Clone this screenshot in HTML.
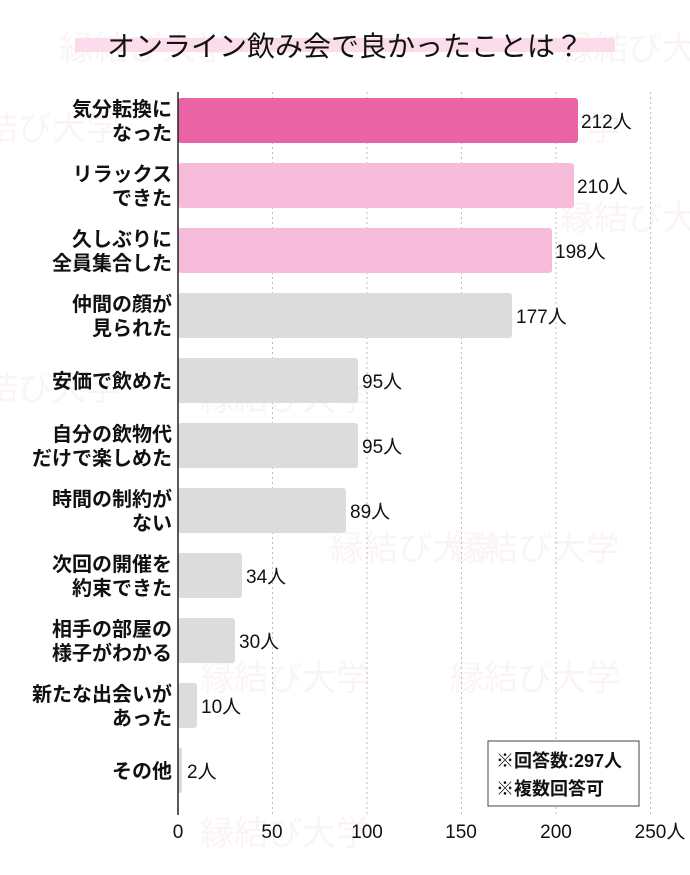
<!DOCTYPE html>
<html><head><meta charset="utf-8"><style>
body{margin:0;background:#fff;}
svg text{font-family:"Liberation Sans","Noto Sans CJK JP",sans-serif;}
</style></head><body>
<svg width="690" height="870" xmlns="http://www.w3.org/2000/svg">
<rect width="690" height="870" fill="#fff"/>
<g fill="#fbf4f4" font-size="34">
<text x="60" y="60">縁結び大学</text><text x="560" y="60">縁結び大学</text>
<text x="-50" y="140">縁結び大学</text><text x="200" y="140">縁結び大学</text><text x="450" y="140">縁結び大学</text>
<text x="560" y="230">縁結び大学</text>
<text x="-50" y="400">縁結び大学</text><text x="200" y="410">縁結び大学</text>
<text x="450" y="690">縁結び大学</text><text x="200" y="690">縁結び大学</text>
<text x="330" y="560">縁結び大学</text><text x="450" y="560">縁結び大学</text><text x="200" y="845">縁結び大学</text>
</g>
<rect x="75" y="38" width="540" height="14" fill="#fbdcea"/>
<text x="345" y="56" font-size="28" text-anchor="middle" fill="#111">オンライン飲み会で良かったことは？</text>
<g stroke="#bbb" stroke-dasharray="2,3" stroke-width="1">
<line x1="272.5" y1="92" x2="272.5" y2="815"/><line x1="367" y1="92" x2="367" y2="815"/>
<line x1="461.5" y1="92" x2="461.5" y2="815"/><line x1="556" y1="92" x2="556" y2="815"/>
<line x1="650.5" y1="92" x2="650.5" y2="815"/>
</g>
<g>
<rect x="178" y="98" width="400" height="45" rx="3" fill="#e963a5"/>
<rect x="178" y="163" width="396" height="45" rx="3" fill="#f6bcd9"/>
<rect x="178" y="228" width="374" height="45" rx="3" fill="#f6bcd9"/>
<rect x="178" y="293" width="334" height="45" rx="3" fill="#dcdcdc"/>
<rect x="178" y="358" width="180" height="45" rx="3" fill="#dcdcdc"/>
<rect x="178" y="423" width="180" height="45" rx="3" fill="#dcdcdc"/>
<rect x="178" y="488" width="168" height="45" rx="3" fill="#dcdcdc"/>
<rect x="178" y="553" width="64" height="45" rx="3" fill="#dcdcdc"/>
<rect x="178" y="618" width="57" height="45" rx="3" fill="#dcdcdc"/>
<rect x="178" y="683" width="19" height="45" rx="3" fill="#dcdcdc"/>
<rect x="178" y="748" width="4" height="45" rx="2" fill="#dcdcdc"/>
</g>
<line x1="178" y1="92" x2="178" y2="815" stroke="#222" stroke-width="1.5"/>
<g font-size="19" fill="#111">
<text x="581" y="128">212人</text><text x="577" y="193">210人</text><text x="555" y="258">198人</text>
<text x="516" y="323">177人</text><text x="362" y="388">95人</text><text x="362" y="453">95人</text>
<text x="350" y="518">89人</text><text x="246" y="583">34人</text><text x="239" y="648">30人</text>
<text x="201" y="713">10人</text><text x="187" y="778">2人</text>
</g>
<g font-size="20" font-weight="bold" fill="#111" text-anchor="end">
<text x="172" y="116">気分転換に</text><text x="172" y="140">なった</text>
<text x="172" y="181">リラックス</text><text x="172" y="205">できた</text>
<text x="172" y="246">久しぶりに</text><text x="172" y="270">全員集合した</text>
<text x="172" y="311">仲間の顔が</text><text x="172" y="335">見られた</text>
<text x="172" y="388">安価で飲めた</text>
<text x="172" y="441">自分の飲物代</text><text x="172" y="465">だけで楽しめた</text>
<text x="172" y="506">時間の制約が</text><text x="172" y="530">ない</text>
<text x="172" y="571">次回の開催を</text><text x="172" y="595">約束できた</text>
<text x="172" y="636">相手の部屋の</text><text x="172" y="660">様子がわかる</text>
<text x="172" y="701">新たな出会いが</text><text x="172" y="725">あった</text>
<text x="172" y="778">その他</text>
</g>
<rect x="488" y="741" width="151" height="65" fill="#fff" stroke="#444" stroke-width="1"/>
<g font-size="18" font-weight="bold" fill="#111">
<text x="496" y="767">※回答数:297人</text><text x="496" y="795">※複数回答可</text>
</g>
<g font-size="19" fill="#111" text-anchor="middle">
<text x="178" y="838">0</text><text x="272" y="838">50</text><text x="367" y="838">100</text>
<text x="461" y="838">150</text><text x="556" y="838">200</text><text x="660" y="838">250人</text>
</g>
</svg>
</body></html>
